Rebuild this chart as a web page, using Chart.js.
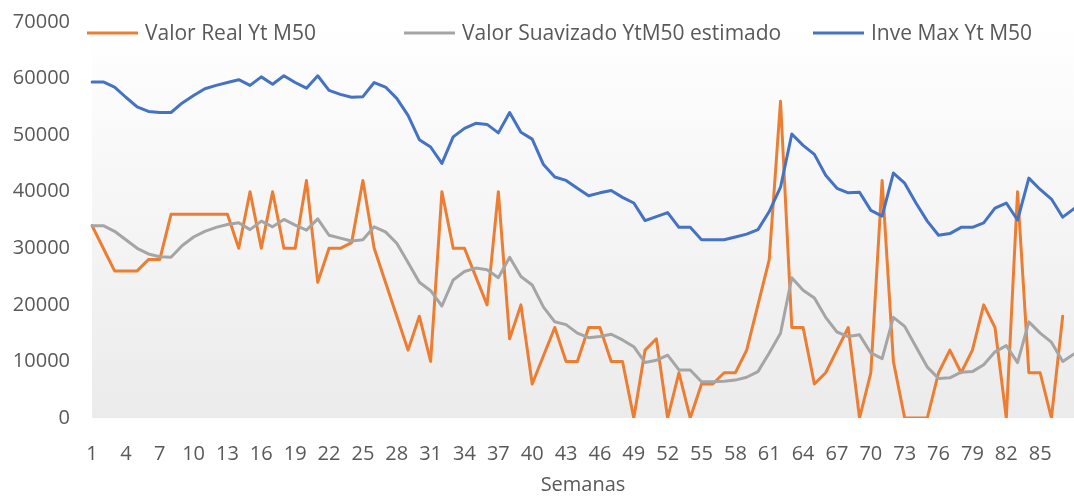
<!DOCTYPE html>
<html>
<head>
<meta charset="utf-8">
<title>Semanas</title>
<script src="https://cdn.jsdelivr.net/npm/chart.js@4.4.1/dist/chart.umd.min.js"></script>
<style>
  html, body { margin: 0; padding: 0; background: #ffffff; }
  #wrap { position: relative; width: 1074px; height: 497px; }
</style>
</head>
<body>
<div id="wrap"><canvas id="chart"></canvas></div>
<script>
const weeks = [
  1, 2, 3, 4, 5, 6, 7, 8, 9, 10, 11, 12, 13, 14, 15, 16, 17, 18, 19, 20, 21, 22,
  23, 24, 25, 26, 27, 28, 29, 30, 31, 32, 33, 34, 35, 36, 37, 38, 39, 40, 41, 42, 43, 44,
  45, 46, 47, 48, 49, 50, 51, 52, 53, 54, 55, 56, 57, 58, 59, 60, 61, 62, 63, 64, 65, 66,
  67, 68, 69, 70, 71, 72, 73, 74, 75, 76, 77, 78, 79, 80, 81, 82, 83, 84, 85, 86, 87, 88
];

// Valor Real Yt M50 (no value for the last week)
const valorReal = [
  34000, 30000, 26000, 26000, 26000, 28000, 28000, 36000, 36000, 36000, 36000, 36000, 36000, 30000,
  40000, 30000, 40000, 30000, 30000, 42000, 24000, 30000, 30000, 31000, 42000, 30000, 24000, 18000,
  12000, 18000, 10000, 40000, 30000, 30000, 25000, 20000, 40000, 14000, 20000, 6000, 11000, 16000,
  10000, 10000, 16000, 16000, 10000, 10000, 0, 12000, 14000, 0, 8000, 0, 6000, 6000,
  8000, 8000, 12000, 20000, 28000, 56000, 16000, 16000, 6000, 8000, 12000, 16000, 0, 8000,
  42000, 10000, 0, 0, 0, 8000, 12000, 8000, 12000, 20000, 16000, 0, 40000, 8000,
  8000, 0, 18000
];

// Valor Suavizado YtM50 estimado
const valorSuavizado = [
  34000, 34000, 33000, 31500, 30000, 29000, 28500, 28400, 30500, 32000, 33000, 33700, 34200, 34500,
  33300, 34800, 33800, 35100, 34100, 33200, 35200, 32300, 31800, 31300, 31500, 33800, 32900, 30900,
  27500, 24000, 22500, 19800, 24400, 25900, 26500, 26200, 24800, 28400, 25000, 23500, 19600, 17000,
  16500, 15000, 14200, 14400, 14800, 13800, 12600, 9800, 10200, 11100, 8500, 8500, 6400, 6400,
  6500, 6700, 7200, 8200, 11500, 15000, 24800, 22600, 21200, 17800, 15200, 14400, 14700, 11500,
  10500, 17800, 16200, 12600, 9000, 7000, 7100, 8100, 8200, 9400, 11700, 12800, 9800, 17000,
  15000, 13400, 10000, 11300
];

// Inve Max Yt M50
const inveMax = [
  59400, 59400, 58500, 56700, 55000, 54200, 54000, 54000, 55700, 57000, 58200, 58800, 59300, 59800,
  58800, 60300, 59000, 60500, 59300, 58300, 60500, 57900, 57200, 56700, 56800, 59300, 58500, 56500,
  53500, 49200, 47900, 45000, 49700, 51200, 52100, 51900, 50400, 54000, 50500, 49300, 44800, 42600,
  42000, 40600, 39300, 39800, 40200, 39000, 38000, 34900, 35600, 36300, 33700, 33700, 31500, 31500,
  31500, 32000, 32500, 33300, 36500, 40800, 50200, 48200, 46600, 42900, 40600, 39800, 39900, 36700,
  35700, 43300, 41500, 38000, 34800, 32300, 32600, 33700, 33700, 34500, 37100, 38000, 35000, 42400,
  40400, 38700, 35500, 37000
];

const yTicks = [0, 10000, 20000, 30000, 40000, 50000, 60000, 70000];

const textColor = '#595959';
const fontFamily = '"Open Sans", "Liberation Sans", sans-serif';

// light grey gradient behind the plot, white at the top
const plotBackground = {
  id: 'plotBackground',
  beforeDraw(chart) {
    const { ctx, chartArea: a } = chart;
    const g = ctx.createLinearGradient(0, a.top, 0, a.bottom);
    g.addColorStop(0, '#ffffff');
    g.addColorStop(1, '#ebebeb');
    ctx.save();
    ctx.fillStyle = g;
    ctx.fillRect(a.left, a.top, a.right - a.left, a.bottom - a.top);
    ctx.restore();
  }
};

// legend drawn over the top of the plot, like the original
const topLegend = {
  id: 'topLegend',
  afterDraw(chart, args, opts) {
    const ctx = chart.ctx;
    ctx.save();
    ctx.font = opts.font;
    ctx.textBaseline = 'middle';
    chart.data.datasets.forEach((ds, i) => {
      const x = opts.starts[i];
      ctx.strokeStyle = ds.borderColor;
      ctx.lineWidth = 3;
      ctx.beginPath();
      ctx.moveTo(x, opts.y);
      ctx.lineTo(x + opts.lineLen, opts.y);
      ctx.stroke();
      ctx.fillStyle = textColor;
      ctx.fillText(ds.label, x + opts.lineLen + 7, opts.y + 1);
    });
    ctx.restore();
  }
};

new Chart(document.getElementById('chart'), {
  type: 'line',
  data: {
    labels: weeks,
    datasets: [
      {
        label: 'Valor Real Yt M50',
        data: valorReal,
        borderColor: '#ED7D31',
        borderWidth: 3,
        order: 2
      },
      {
        label: 'Valor Suavizado YtM50 estimado',
        data: valorSuavizado,
        borderColor: '#A5A5A5',
        borderWidth: 3,
        order: 1
      },
      {
        label: 'Inve Max Yt M50',
        data: inveMax,
        borderColor: '#4472C4',
        borderWidth: 3,
        order: 0
      }
    ]
  },
  options: {
    responsive: true,
    maintainAspectRatio: false,
    animation: false,
    layout: { padding: { top: 22, right: 0, bottom: 0, left: 0 } },
    elements: {
      point: { radius: 0 },
      line: { tension: 0, borderJoinStyle: 'round', borderCapStyle: 'round' }
    },
    scales: {
      x: {
        offset: false,
        // invisible tick marks give the label gap without extra side padding
        grid: { display: false, drawTicks: true, tickLength: 24 },
        border: { display: false },
        ticks: {
          autoSkip: false,
          maxRotation: 0,
          padding: 0,
          color: textColor,
          font: { family: fontFamily, size: 20 },
          callback: (val, i) => (i % 3 === 0 && i < 87) ? weeks[i] : null
        },
        title: {
          display: true,
          text: 'Semanas',
          color: textColor,
          font: { family: fontFamily, size: 20 },
          padding: { top: 0, bottom: 0 }
        },
        afterFit: (scale) => { scale.height = 79; }
      },
      y: {
        min: 0,
        max: 70000,
        grid: { display: false, drawTicks: true, tickLength: 22 },
        border: { display: false },
        afterBuildTicks: (scale) => { scale.ticks = yTicks.map(v => ({ value: v })); },
        ticks: {
          padding: 0,
          color: textColor,
          font: { family: fontFamily, size: 20 },
          callback: (v) => String(v)
        },
        afterFit: (scale) => { scale.width = 92; }
      }
    },
    plugins: {
      legend: { display: false },
      tooltip: { enabled: false },
      topLegend: {
        starts: [87, 404, 813],
        y: 33,
        lineLen: 51,
        font: '21px ' + fontFamily
      }
    }
  },
  plugins: [plotBackground, topLegend]
});
</script>
</body>
</html>
